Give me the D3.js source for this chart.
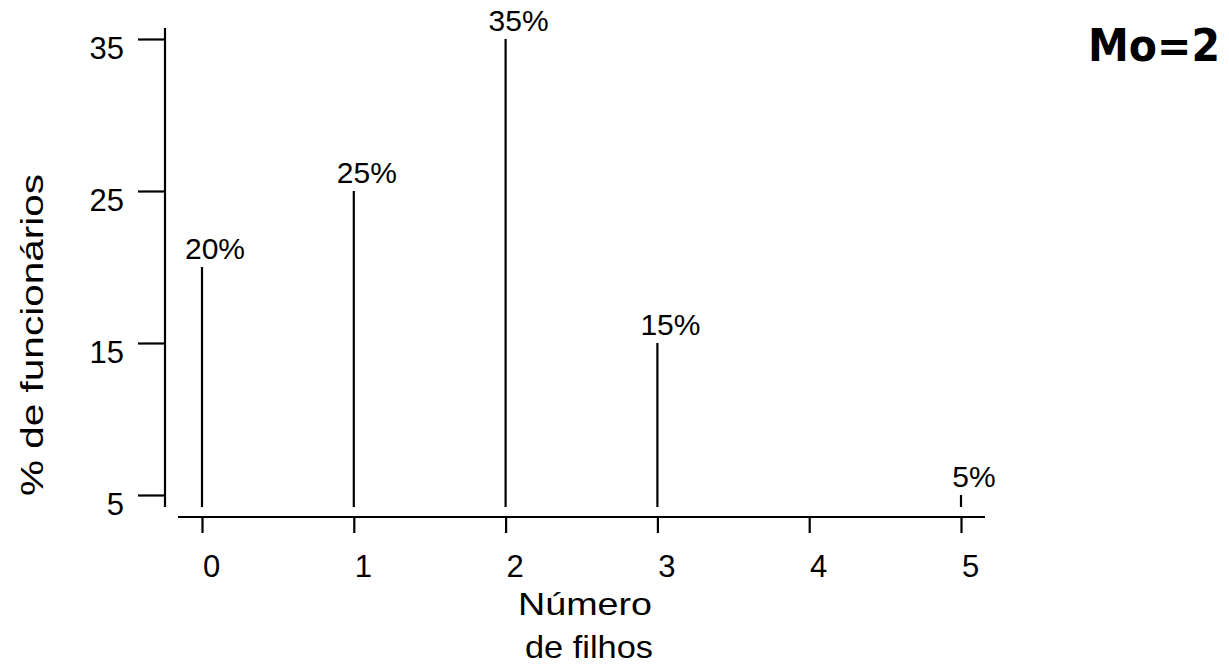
<!DOCTYPE html>
<html><head><meta charset="utf-8">
<script src="https://cdn.jsdelivr.net/npm/d3@7"></script>
<style>
html,body{margin:0;padding:0;background:#fff;}
svg text{font-family:"Liberation Sans",Arial,sans-serif;fill:#000;}
</style></head>
<body>
<svg id="c" width="1229" height="667"></svg>
<script>
const categories = [0, 1, 2, 3, 5];
const percents = [20, 25, 35, 15, 5];
const labels = ["20%", "25%", "35%", "15%", "5%"];
const xTicks = [0, 1, 2, 3, 4, 5];
const yTicks = [5, 15, 25, 35];
const xTitle = ["Número", "de filhos"];
const yTitle = "% de funcionários";
const note = "Mo=2";

const svg = d3.select("#c");
const x = d3.scaleLinear().domain([0, 5]).range([202, 961]);
const y = d3.scaleLinear().domain([5, 35]).range([495, 39]);

// Y axis
const yAxis = d3.axisLeft(y).tickValues(yTicks).tickFormat(d3.format("d")).tickSize(27).tickSizeOuter(0).tickPadding(14);
const gy = svg.append("g").attr("transform", "translate(165,0)").call(yAxis);
gy.select(".domain").attr("d", `M0,${y(35.72)}V${y(4.21)}`).attr("stroke", "#000").attr("stroke-width", 2.2);
gy.selectAll(".tick line").attr("stroke", "#000").attr("stroke-width", 2.2);
gy.selectAll(".tick text").attr("font-size", 31).attr("dy", null).attr("y", 19).attr("font-family", "Liberation Sans, Arial, sans-serif");

// X axis
const xAxis = d3.axisBottom(x).tickValues(xTicks).tickFormat(d3.format("d")).tickSize(16).tickSizeOuter(0).tickPadding(0);
const gx = svg.append("g").attr("transform", "translate(0,517)").call(xAxis);
gx.select(".domain").attr("d", `M${x(-0.158)},0H${x(5.158)}`).attr("stroke", "#000").attr("stroke-width", 2.2);
gx.selectAll(".tick line").attr("stroke", "#000").attr("stroke-width", 2.2);
gx.selectAll(".tick text").attr("font-size", 31).attr("dy", null).attr("y", 60).attr("x", 9).attr("font-family", "Liberation Sans, Arial, sans-serif");

// Bars (spikes)
svg.append("g").selectAll("line").data(categories).join("line")
  .attr("x1", d => x(d)).attr("x2", d => x(d))
  .attr("y1", y(4.21)).attr("y2", (d, i) => y(percents[i]))
  .attr("stroke", "#000").attr("stroke-width", 2.2);

// Value labels
svg.append("g").selectAll("text").data(categories).join("text")
  .attr("x", d => x(d) + 13).attr("y", (d, i) => y(percents[i]) - 8)
  .attr("text-anchor", "middle").attr("font-size", 30)
  .text((d, i) => labels[i]);

// X title
const xt = svg.append("g").attr("font-size", 32);
xt.append("text").attr("x", 518).attr("y", 615)
  .attr("textLength", 134).attr("lengthAdjust", "spacingAndGlyphs").text(xTitle[0]);
xt.append("text").attr("x", 525).attr("y", 658)
  .attr("textLength", 128).attr("lengthAdjust", "spacingAndGlyphs").text(xTitle[1]);

// Y title
svg.append("text").attr("transform", "translate(43,335) rotate(-90)")
  .attr("text-anchor", "middle").attr("font-size", 32)
  .attr("textLength", 322).attr("lengthAdjust", "spacingAndGlyphs")
  .text(yTitle);

// Mode note
svg.append("text").attr("x", 1088).attr("y", 61)
  .attr("font-size", 44).attr("font-weight", "bold")
  .style("font-family", "'Comic Sans MS','DejaVu Sans',sans-serif")
  .attr("textLength", 132).attr("lengthAdjust", "spacingAndGlyphs")
  .text(note);
</script>
</body></html>
